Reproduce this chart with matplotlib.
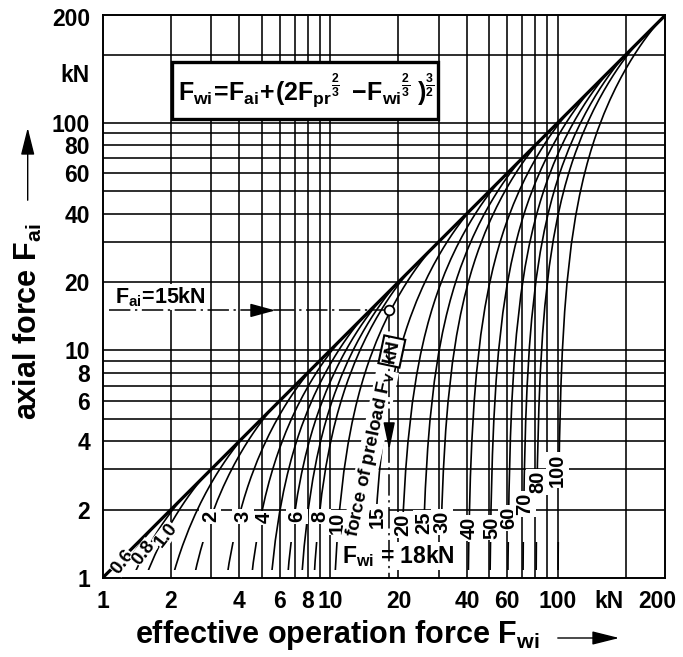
import matplotlib
matplotlib.use("Agg")
import matplotlib.pyplot as plt
from matplotlib.patches import Rectangle
from matplotlib.ticker import NullLocator

plt.rcParams.update({
    "font.family": ["Liberation Sans", "DejaVu Sans"],
    "font.weight": "bold",
    "mathtext.fontset": "custom",
    "mathtext.rm": "Liberation Sans:bold",
    "mathtext.it": "Liberation Sans:bold",
    "mathtext.bf": "Liberation Sans:bold",
    "mathtext.sf": "Liberation Sans:bold",
})

# ---------------- data ----------------
# preload forces F_pr [kN] of the curve family
preloads = [0.6, 0.8, 1.0, 1.5, 2, 3, 4, 5, 6, 7, 8, 10, 15, 20, 25, 30, 40, 50, 60, 70, 80, 100]
# common curve shape in units of the preload: F_wi/F_pr and F_ai/F_pr
shape_k = [1.005, 1.01, 1.02, 1.035, 1.05, 1.075, 1.1, 1.15, 1.2, 1.25, 1.3, 1.35, 1.4,
           1.45, 1.5, 1.6, 1.7, 1.8, 1.9, 2.0, 2.1, 2.2, 2.3, 2.4, 2.5, 2.6, 2.7,
           2.75, 2.8, 2.8284]
shape_g = [0.00999, 0.01997, 0.03987, 0.06960, 0.09918, 0.14817, 0.19677, 0.29284,
           0.38746, 0.48068, 0.57254, 0.66309, 0.75240, 0.84045, 0.92731, 1.09755,
           1.26330, 1.42474, 1.58193, 1.73497, 1.88389, 2.02867, 2.16927, 2.30552,
           2.43721, 2.56392, 2.68493, 2.74284, 2.79844, 2.8284]

curve_labels = ["2", "3", "4", "6", "8", "10", "15", "20", "25", "30", "40", "50",
                "60", "70", "80", "100"]
small_labels = ["0.6", "0.8", "1.0"]

grid_values = [2, 3, 4, 5, 6, 7, 8, 9, 10, 20, 30, 40, 50, 60, 70, 80, 90, 100, 200]
x_tick_values = [1, 2, 4, 6, 8, 10, 20, 40, 60, 100]
y_tick_values = [1, 2, 4, 6, 8, 10, 20, 40, 60, 80, 100]

example_fai = 15.0   # kN
example_fwi = 18.2   # kN

# ---------------- layout ----------------
curve_label_x = [2.98, 4.13, 5.13, 7.14, 9.04, 10.8, 16.2, 20.8, 25.9, 31.0, 40.8, 51.5,
                 61.2, 71.6, 81.7, 100]
curve_label_y = [1.86, 1.86, 1.84, 1.86, 1.86, 1.75, 1.86, 1.71, 1.75, 1.76, 1.66, 1.67,
                 1.84, 2.12, 2.64, 2.98]
small_label_x = [1.225, 1.515, 1.90]
small_label_y = [1.175, 1.295, 1.545]

XMAX, YMAX = 295.3, 298.3
CURVE_BOTTOM = 1.08
LOWER_TOP = 1.44

fig = plt.figure(figsize=(6.83, 6.57), dpi=100)
ax = fig.add_axes([102.5 / 683, 1 - 578 / 657, 562 / 683, 563 / 657])
ax.set_xscale("log")
ax.set_yscale("log")
ax.set_xlim(1, XMAX)
ax.set_ylim(1, YMAX)

for v in grid_values:
    ax.axvline(v, color="black", lw=1.15, zorder=1)
    ax.axhline(v, color="black", lw=1.15, zorder=1)

for s in ax.spines.values():
    s.set_linewidth(1.4)

# diagonal F_ai = F_wi
ax.axline((1, 1), (100, 100), color="black", lw=2.3, zorder=3)


def clip_band(line, ylo, yhi):
    r = Rectangle((1e-3, ylo), 1e5, yhi - ylo, transform=ax.transData)
    line.set_clip_path(r)


label_map = dict(zip(curve_labels, zip(curve_label_x, curve_label_y)))
for fp in preloads:
    xs = [fp * k for k in shape_k]
    ys = [fp * g for g in shape_g]
    key = "%g" % fp
    if key in label_map:
        ly = label_map[key][1]
        l1, = ax.plot(xs, ys, color="black", lw=1.2, zorder=2)
        clip_band(l1, CURVE_BOTTOM, LOWER_TOP)
        l2, = ax.plot(xs, ys, color="black", lw=1.2, zorder=2)
        clip_band(l2, ly, 1e4)
    else:
        l, = ax.plot(xs, ys, color="black", lw=1.2, zorder=2)
        clip_band(l, CURVE_BOTTOM, 1e4)

for t, x, y in zip(curve_labels, curve_label_x, curve_label_y):
    ax.text(x, y, t, rotation=90, ha="center", va="center", fontsize=14.5,
            rotation_mode="anchor", zorder=6,
            bbox=dict(boxstyle="square,pad=0.08", fc="white", ec="none"))
for t, x, y in zip(small_labels, small_label_x, small_label_y):
    ax.text(x, y, t, rotation=52, ha="center", va="center", fontsize=13.5,
            rotation_mode="anchor", zorder=6,
            bbox=dict(boxstyle="square,pad=0.0", fc="white", ec="none"))

# formula box
ax.add_patch(Rectangle((2.02, 104.1), 29.83 - 2.02, 185.4 - 104.1, fc="white",
                       ec="black", lw=2.4, zorder=5))
ax.text(7.9, 139, r"$F_{wi}\!=\!F_{ai}\!+\!(2F_{pr}{}^{\frac{2}{3}}\;-\!F_{wi}{}^{\frac{2}{3}}\;)^{\frac{3}{2}}$",
        ha="center", va="center", fontsize=18, zorder=6)

# example: F_ai = 15 kN
dash = (0, (14, 3, 1.5, 3))
ax.plot([1.07, example_fwi], [example_fai, example_fai], color="black", lw=1.1,
        linestyle=dash, zorder=7)
ax.plot([example_fwi, example_fwi], [example_fai, 1.0], color="black", lw=1.1,
        linestyle=dash, zorder=7)
ax.plot([example_fwi], [example_fai], marker="o", ms=7, mfc="white", mec="black",
        mew=1.3, zorder=8)
ax.annotate("", xy=(5.75, example_fai), xytext=(4.6, example_fai),
            arrowprops=dict(arrowstyle="-|>,head_length=1.1,head_width=0.3",
                            color="black", lw=1.1, shrinkA=0, shrinkB=0,
                            mutation_scale=14), zorder=8)
ax.annotate("", xy=(example_fwi, 3.65), xytext=(example_fwi, 4.6),
            arrowprops=dict(arrowstyle="-|>,head_length=1.2,head_width=0.25",
                            color="black", lw=1.1, shrinkA=0, shrinkB=0,
                            mutation_scale=14), zorder=8)
ax.text(1.135, 17.2, r"F$_{ai}$=15kN", ha="left", va="center", fontsize=15.5, zorder=6,
        bbox=dict(boxstyle="square,pad=0.05", fc="white", ec="none"))
ax.text(11.3, 1.25, r"F$_{wi}$ = 18kN", ha="left", va="center", fontsize=16.5, zorder=6,
        bbox=dict(boxstyle="square,pad=0.05", fc="white", ec="none"))
ax.text(15.0, 3.5, r"force of preload F$_V$", rotation=78, rotation_mode="anchor",
        ha="center", va="center", fontsize=13.5, zorder=6,
        bbox=dict(boxstyle="square,pad=0.05", fc="white", ec="none"))
ax.text(18.7, 9.9, "kN", rotation=78, rotation_mode="anchor", ha="center",
        va="center", fontsize=13.5, zorder=6,
        bbox=dict(boxstyle="square,pad=0.12", fc="white", ec="black", lw=1.5))

# ticks
ax.xaxis.set_minor_locator(NullLocator())
ax.yaxis.set_minor_locator(NullLocator())
ax.set_xticks(x_tick_values + [168.4, 273.7])
ax.set_xticklabels(["%g" % v for v in x_tick_values] + ["kN", "200"])
ax.set_yticks(y_tick_values + [165.1, 293.3])
ax.set_yticklabels(["%g" % v for v in y_tick_values] + ["kN", "200"])
ax.tick_params(axis="both", length=0, labelsize=16.5)
ax.tick_params(axis="x", pad=8.5)
ax.tick_params(axis="y", pad=9)

# axis titles with arrows
fig.text(135 / 683, 1 - 643 / 657, r"effective operation force F$_{wi}$", ha="left",
         va="baseline", fontsize=22)
fig.text(37 / 683, 1 - 420 / 657, r"axial force F$_{ai}$", ha="left", va="baseline",
         rotation=90, rotation_mode="anchor", fontsize=22)
fig.patches.append(matplotlib.patches.FancyArrowPatch(
    (555, 19), (622, 19), transform=None, arrowstyle="-|>,head_length=1.2,head_width=0.3",
    mutation_scale=14, color="black", lw=1.0))
fig.patches.append(matplotlib.patches.FancyArrowPatch(
    (27.7, 657 - 203), (27.7, 657 - 125), transform=None,
    arrowstyle="-|>,head_length=1.2,head_width=0.3", mutation_scale=14, color="black",
    lw=1.0))

fig.savefig("out.png", dpi=100)
